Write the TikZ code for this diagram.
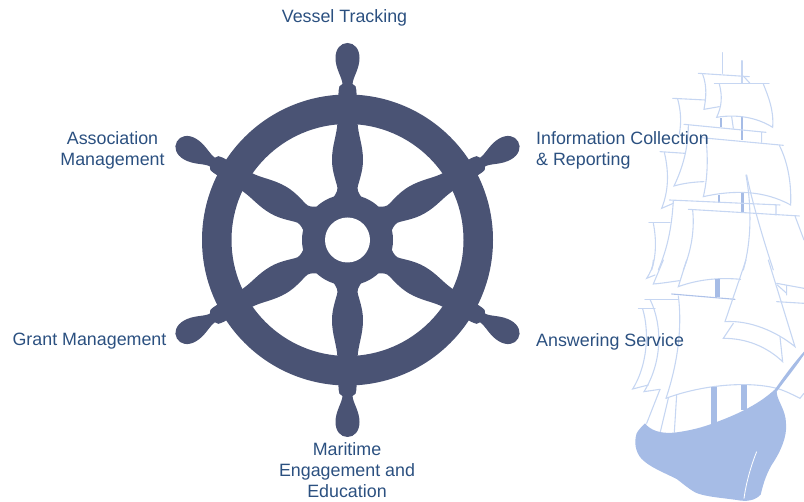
\documentclass[tikz,border=0pt]{standalone}
\usepackage{fontspec}
\setmainfont{Liberation Sans}
\definecolor{wheelc}{HTML}{4A5374}
\definecolor{hullc}{HTML}{A6BCE6}
\definecolor{sailc}{HTML}{C6D6F2}
\definecolor{labelc}{HTML}{2B5080}
\tikzset{
  lab/.style={text=labelc,font=\fontsize{17.85}{21}\selectfont,inner sep=0pt},
  sail/.style={draw=sailc,line width=1.1pt,line cap=round},
  mastline/.style={draw=hullc,line width=1.8pt},
  thickmast/.style={draw=hullc,line width=3pt},
  zoomA/.style={shift={(620,40)},scale=0.3333},
  zoomB/.style={shift={(620,260)},scale=0.3333},
}
\begin{document}
\begin{tikzpicture}[x=1pt,y=-1pt]
\path[use as bounding box] (0,0) rectangle (804,502);
\clip (0,0) rectangle (804,502);
% ---- ship, upper part
\begin{scope}[zoomA]
\draw[sail] (307,38)--(307,100) (366,62)--(366,130);
\draw[mastline] (366,232)--(366,300) (303,235)--(303,262);
\draw[sail] (335,230)--(340,265);
\draw[thickmast] (368,460)--(368,520);
\draw[mastline] (298,465)--(298,488);
\draw[sail] (235,100)--(388,110) (370,108)--(390,130);
\draw[sail] (248,103) .. controls (262,140) and (258,175) .. (252,208) -- (298,200);
\draw[sail] (283,130)--(447,130);
\draw[sail] (298,132) .. controls (308,170) and (305,200) .. (290,232) .. controls (350,222) and (410,232) .. (458,262) .. controls (462,210) and (445,170) .. (430,132);
\draw[sail] (158,175)--(255,180);
\draw[sail] (173,177) .. controls (182,210) and (185,245) .. (178,282);
\draw[sail] (192,253)--(438,277) (425,277)--(425,307);
\draw[sail] (205,255) .. controls (205,320) and (190,380) .. (162,438) .. controls (190,430) and (220,426) .. (252,425);
\draw[sail] (243,293)--(490,316);
\draw[sail] (258,296) .. controls (265,360) and (262,420) .. (250,470) .. controls (340,450) and (430,450) .. (512,495) .. controls (515,420) and (500,360) .. (478,316);
\draw[sail] (120,335)--(195,340);
\draw[sail] (133,337) .. controls (148,400) and (145,455) .. (125,505) -- (160,490);
\draw[sail] (148,480)--(480,495) (468,495)--(468,525);
\draw[sail] (205,508)--(538,528) (525,528)--(552,600);
\draw[sail] (218,510) .. controls (225,580) and (210,640) .. (190,690);
\draw[sail] (160,482) .. controls (155,570) and (140,630) .. (115,690);
\draw[sail] (87,548)--(150,548);
\draw[sail] (100,550) .. controls (110,600) and (108,650) .. (95,690);
\draw[sail] (380,405) .. controls (395,480) and (430,600) .. (460,690);
\draw[sail] (378,405) .. controls (395,500) and (395,600) .. (370,690);
\end{scope}
% ---- ship, lower part
\begin{scope}[zoomB]
\draw[sail] (100,0) .. controls (100,20) and (90,40) .. (80,55) -- (105,45);
\draw[sail] (130,0) -- (100,72) .. controls (125,70) and (150,66) .. (178,62);
\draw[sail] (200,0) -- (175,80) .. controls (235,58) and (300,52) .. (362,58);
\draw[hullc,line width=4.6pt] (292,58)--(292,112);
\draw[sail,draw=hullc!75!sailc] (155,102)--(345,118);
\draw[sail] (378,0) -- (315,185) .. controls (390,180) and (470,215) .. (525,260) -- (445,0);
\draw[sail] (340,190) -- (310,235) .. controls (380,235) and (440,260) .. (488,305) -- (480,230);
\draw[sail] (470,70) -- (552,85) (470,125) -- (552,130) (472,75) -- (500,100) (500,75) -- (500,105);
\draw[sail] (75,118)--(175,118) (55,145)--(105,145);
\draw[sail] (175,108) .. controls (188,210) and (170,320) .. (138,415);
\draw[sail] (90,118) .. controls (130,200) and (125,310) .. (72,395) -- (120,388);
\draw[sail] (68,147) .. controls (90,220) and (80,320) .. (38,387) -- (85,375);
\draw[sail] (138,415) .. controls (230,380) and (370,360) .. (470,385) .. controls (495,392) and (520,405) .. (540,415) -- (552,400);
\draw[sail] (120,388) -- (80,490) (145,415) -- (120,520) (170,405) -- (163,517);
\draw[hullc,line width=5.8pt] (283,380)--(283,495);
\draw[hullc,line width=5.2pt] (372,375)--(372,450);
\fill[hullc] (75,490) .. controls (90,510) and (120,522) .. (163,518)
  .. controls (210,512) and (250,502) .. (290,486)
  .. controls (360,460) and (420,430) .. (465,388)
  .. controls (495,345) and (525,305) .. (552,275) -- (552,284)
  .. controls (525,325) and (495,360) .. (470,395)
  .. controls (470,420) and (498,450) .. (498,490)
  .. controls (502,530) and (482,575) .. (455,615)
  .. controls (435,650) and (428,680) .. (422,704)
  .. controls (405,722) and (380,726) .. (350,720)
  .. controls (310,714) and (250,710) .. (225,697)
  .. controls (200,682) and (190,672) .. (170,657)
  .. controls (130,637) and (90,622) .. (65,597)
  .. controls (45,575) and (42,545) .. (50,520)
  .. controls (55,510) and (65,500) .. (75,490) -- cycle;
\draw[white,line width=0.8pt] (410,575) .. controls (392,620) and (378,670) .. (372,716);
\end{scope}
% ---- wheel
\fill[wheelc,even odd rule] (347.5,240) circle[radius=145.5] (347.5,240) circle[radius=116];
\fill[wheelc] (347.5,240) circle[radius=45.5];
\foreach \a in {0,60,...,300}{
  \fill[wheelc,shift={(347.5,240)},rotate=\a]
    (16,-40) .. controls (13,-44) and (10,-48) .. (10,-52) .. controls (11,-58) and (15.5,-68) .. (15.5,-80)
    .. controls (15.5,-95) and (10.5,-105) .. (10,-118) -- (9,-147) -- (8.8,-150) .. controls (8.8,-153) and (8,-155) .. (5,-156)
    .. controls (5.5,-163) and (12,-171) .. (12,-182)
    .. controls (12,-191) and (7,-197) .. (0,-197)
    .. controls (-7,-197) and (-12,-191) .. (-12,-182)
    .. controls (-12,-171) and (-5.5,-163) .. (-5,-156)
    .. controls (-8,-155) and (-8.8,-153) .. (-8.8,-150) -- (-9,-147) -- (-10,-118)
    .. controls (-10.5,-105) and (-15.5,-95) .. (-15.5,-80)
    .. controls (-15.5,-68) and (-11,-58) .. (-10,-52) .. controls (-10,-48) and (-13,-44) .. (-16,-40) -- cycle;
}
\fill[white] (347.5,240) circle[radius=22.5];
% ---- labels
\node[lab] (vessel) at (344.5,18) {Vessel Tracking};
\node[lab,align=center] (assoc) at (112.5,150) {Association\\Management};
\node[lab,align=left,anchor=west] (info) at (536,150) {Information Collection\\\& Reporting};
\node[lab] (grant) at (89.5,341.5) {Grant Management};
\node[lab,anchor=west] (answer) at (536,341.5) {Answering Service};
\node[lab,align=center] (marit) at (347,470.5) {Maritime\\Engagement and\\Education};
\end{tikzpicture}
\end{document}
